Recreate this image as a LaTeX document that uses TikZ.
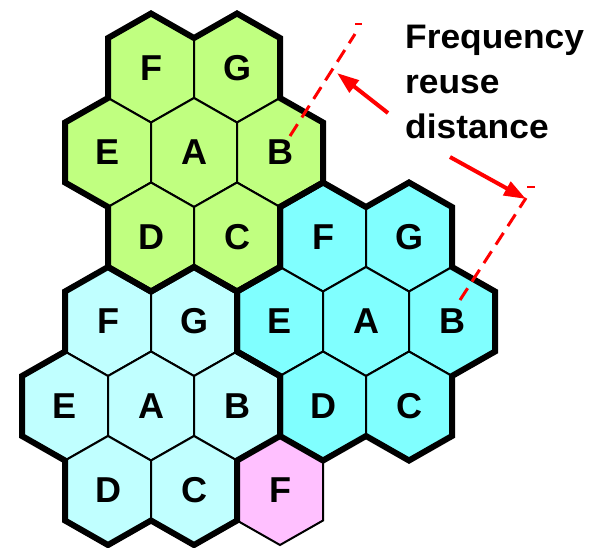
\documentclass[tikz,border=0pt]{standalone}
\usepackage{fontspec}
\setmainfont{Liberation Sans}
\usetikzlibrary{arrows.meta}
\definecolor{cgreen}{RGB}{192,255,128}
\definecolor{ccyan}{RGB}{128,255,255}
\definecolor{clight}{RGB}{192,255,255}
\definecolor{cpink}{RGB}{255,192,255}
\newcommand\hexcell[5]{%
  \begin{scope}[shift={(#2,#3)}]
    \filldraw[fill=#4, thinedge] (-43,-30) -- (0,-54.5) -- (43,-30) -- (43,30) -- (0,54.5) -- (-43,30) -- cycle;
  \end{scope}
  \node[cell] (#1) at (#2,#3) {#5};}
\newcommand\clusterline[2]{%
  \begin{scope}[shift={(#1,#2)}]
    \draw[thickedge] (-129,-30) -- (-86,-54.5) -- (-86,-114.5) -- (-43,-139) -- (0,-114.5) -- (43,-139) -- (86,-114.5) -- (86,-54.5) -- (129,-30) -- (129,30) -- (86,54.5) -- (86,114.5) -- (43,139) -- (0,114.5) -- (-43,139) -- (-86,114.5) -- (-86,54.5) -- (-129,30) -- cycle;
  \end{scope}}
\begin{document}
\begin{tikzpicture}[x=1pt,y=-1pt,
  thinedge/.style={draw=black, line width=2pt, line join=miter},
  thickedge/.style={draw=black, line width=6pt, line join=miter},
  cell/.style={font=\fontsize{36}{40}\selectfont\bfseries, inner sep=0pt, text=black},
  label/.style={font=\fontsize{34}{40}\selectfont\bfseries, inner sep=0pt, anchor=base west, xscale=1.04},
  ext/.style={red, line width=3pt, dash pattern=on 14pt off 8pt},
  tick/.style={red, line width=1.2pt},
  pointer/.style={red, line width=4pt, -{Triangle[length=22pt,width=15pt]}}]
\useasboundingbox (0,0) rectangle (602,547);
% green cluster
\hexcell{gF}{151}{68}{cgreen}{F}
\hexcell{gG}{237}{68}{cgreen}{G}
\hexcell{gE}{108}{152.5}{cgreen}{E}
\hexcell{gA}{194}{152.5}{cgreen}{A}
\hexcell{gB}{280}{152.5}{cgreen}{B}
\hexcell{gD}{151}{237}{cgreen}{D}
\hexcell{gC}{237}{237}{cgreen}{C}
% cyan cluster
\hexcell{cF}{323}{237}{ccyan}{F}
\hexcell{cG}{409}{237}{ccyan}{G}
\hexcell{cE}{280}{321.5}{ccyan}{E}
\hexcell{cA}{366}{321.5}{ccyan}{A}
\hexcell{cB}{452}{321.5}{ccyan}{B}
\hexcell{cD}{323}{406}{ccyan}{D}
\hexcell{cC}{409}{406}{ccyan}{C}
% light cyan cluster
\hexcell{lF}{108}{321.5}{clight}{F}
\hexcell{lG}{194}{321.5}{clight}{G}
\hexcell{lE}{65}{406}{clight}{E}
\hexcell{lA}{151}{406}{clight}{A}
\hexcell{lB}{237}{406}{clight}{B}
\hexcell{lD}{108}{490.5}{clight}{D}
\hexcell{lC}{194}{490.5}{clight}{C}
% pink cell
\hexcell{pF}{280}{490.5}{cpink}{F}
% cluster outlines
\clusterline{194}{152.5}
\clusterline{366}{321.5}
\clusterline{151}{406}
% text
\node[label] (t1) at (405,48) {Frequency};
\node[label] (t2) at (405,93) {reuse};
\node[label] (t3) at (405,138) {distance};
% extension lines
\coordinate (e1a) at (290,136);
\coordinate (e1b) at (355,34);
\coordinate (e2a) at (460,300);
\coordinate (e2b) at (526,198);
\draw[ext] (e1a) -- (e1b);
\draw[ext] (e2a) -- (e2b);
\coordinate (k1a) at (355,24);
\coordinate (k1b) at (362,24);
\coordinate (k2a) at (527,187);
\coordinate (k2b) at (535,187);
\draw[tick] (k1a) -- (k1b);
\draw[tick] (k2a) -- (k2b);
% pointers
\coordinate (p1s) at (388,113);
\coordinate (p1t) at (337,73);
\coordinate (p2s) at (450,157);
\coordinate (p2t) at (526,199);
\draw[pointer] (p1s) -- (p1t);
\draw[pointer] (p2s) -- (p2t);
\end{tikzpicture}
\end{document}
